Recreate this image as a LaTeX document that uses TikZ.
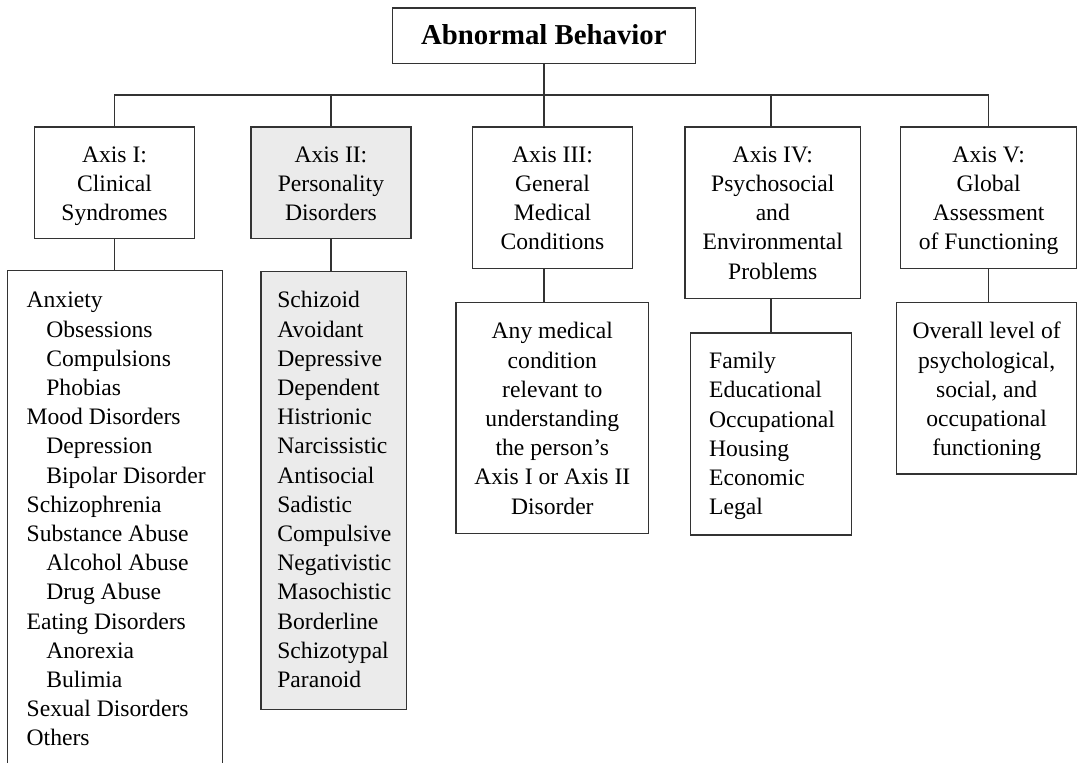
\documentclass[tikz,border=0pt]{standalone}
\usepackage{fontspec}
\setmainfont{Liberation Serif}
\newcommand\boxtext[3]{\begin{minipage}[t][#2pt][t]{#1pt}\fontsize{23.6pt}{29.2pt}\selectfont#3\end{minipage}}
\newcommand\fl[1]{\rule{0pt}{#1pt}}
\newcommand\ind{\hspace*{19.7pt}}
\begin{document}
\begin{tikzpicture}[x=1pt,y=-1pt,
  box/.style={draw=black!80, line width=1.3pt, inner sep=0pt, anchor=north west},
  grey/.style={fill=black!8},
  link/.style={draw=black!80, line width=1.3pt}]
\useasboundingbox (0,0) rectangle (1077,763);
\clip (0,0) rectangle (1077,763);

\node[box] (t) at (391.7,7.3) {\begin{minipage}[t][55.7pt][t]{303pt}\centering\fontsize{28.8pt}{32pt}\selectfont\bfseries\fl{37}Abnormal Behavior\end{minipage}};

\node[box] (a1) at (34,126.3) {\boxtext{159.7}{111.7}{\centering\fl{35.4}Axis I:\\Clinical\\Syndromes}};
\node[box,grey] (a2) at (250.3,126.3) {\boxtext{160}{111.7}{\centering\fl{35.4}Axis II:\\Personality\\Disorders}};
\node[box] (a3) at (472,126.3) {\boxtext{159.7}{141.7}{\centering\fl{35.4}Axis III:\\General\\Medical\\Conditions}};
\node[box] (a4) at (684.3,126.3) {\boxtext{175.7}{171.4}{\centering\fl{35.4}Axis IV:\\Psychosocial\\and\\Environmental\\Problems}};
\node[box] (a5) at (900,126.3) {\boxtext{176}{141.7}{\centering\fl{35.4}Axis V:\\Global\\Assessment\\of Functioning}};

\node[box] (l1) at (6.7,270) {\boxtext{215.3}{520}{\raggedright\leftskip=19.3pt\fl{37.3}Anxiety\\
\ind Obsessions\\ \ind Compulsions\\ \ind Phobias\\
Mood Disorders\\ \ind Depression\\ \ind Bipolar Disorder\\
Schizophrenia\\
Substance Abuse\\ \ind Alcohol Abuse\\ \ind Drug Abuse\\
Eating Disorders\\ \ind Anorexia\\ \ind Bulimia\\
Sexual Disorders\\
Others}};
\node[box,grey] (l2) at (260.3,270.7) {\boxtext{145.4}{438.3}{\raggedright\leftskip=16.4pt\fl{36.6}Schizoid\\Avoidant\\Depressive\\Dependent\\Histrionic\\Narcissistic\\Antisocial\\Sadistic\\Compulsive\\Negativistic\\Masochistic\\Borderline\\Schizotypal\\Paranoid}};
\node[box] (l3) at (455.3,302) {\boxtext{192.7}{230.7}{\centering\fl{36.3}Any medical\\condition\\relevant to\\understanding\\the person’s\\Axis I or Axis II\\Disorder}};
\node[box] (l4) at (689.7,332.3) {\boxtext{161}{202}{\raggedright\leftskip=18.8pt\fl{35.7}Family\\Educational\\Occupational\\Housing\\Economic\\Legal}};
\node[box] (l5) at (896,302) {\boxtext{180}{171.3}{\centering\fl{36.3}Overall level of\\psychological,\\social, and\\occupational\\functioning}};

\coordinate (bus) at (0,95);
\draw[link] (t.south) -- (t.south |- a3.north);
\draw[link] (a1.north) -- (a1.north |- bus) -- (a5.north |- bus) -- (a5.north);
\draw[link] (a2.north) -- (a2.north |- bus);
\draw[link] ([xshift=-1.7pt]a4.north) -- ([xshift=-1.7pt]a4.north |- bus);
\draw[link] (a1.south) -- (a1.south |- l1.north);
\draw[link] (a2.south) -- (a2.south |- l2.north);
\draw[link] (t.south |- a3.south) -- (t.south |- l3.north);
\draw[link] ([xshift=-1.7pt]a4.south) -- ([xshift=-1.7pt]a4.south |- l4.north);
\draw[link] (a5.south) -- (a5.south |- l5.north);
\end{tikzpicture}
\end{document}
